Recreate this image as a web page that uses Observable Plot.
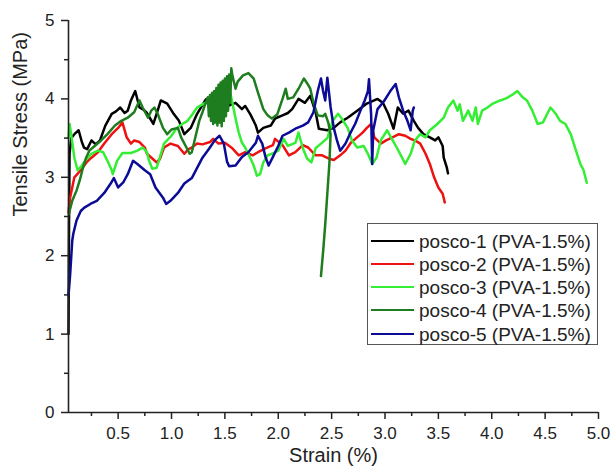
<!DOCTYPE html>
<html><head><meta charset="utf-8">
<script src="https://cdn.jsdelivr.net/npm/d3@7"></script>
<script src="https://cdn.jsdelivr.net/npm/@observablehq/plot@0.6"></script>
<style>
body{margin:0;background:#fff;}
#wrap{position:relative;width:614px;height:474px;font-family:Arial,"Liberation Sans",sans-serif;}
#legend{position:absolute;left:367px;top:223px;width:229px;height:120px;border:1px solid #555;background:#fff;}
.row{position:absolute;left:0;height:23px;width:229px;}
.swatch{position:absolute;left:3px;top:10px;width:43px;height:2px;}
.lab{position:absolute;left:51px;top:0;line-height:23px;font-size:19px;color:#222;white-space:nowrap;}
</style>
</head><body>
<div id="wrap"><div id="chart"></div><div id="legend"></div></div>
<script>
// ---- data (strain %, tensile stress MPa) ----
const names = ["posco-1 (PVA-1.5%)","posco-2 (PVA-1.5%)","posco-3 (PVA-1.5%)","posco-4 (PVA-1.5%)","posco-5 (PVA-1.5%)"];
const colors = ["#000000","#ee1111","#33ee33","#1e7d1e","#0b0b96"];
const xDomain = [0.035, 5];
const yDomain = [0, 5];
const xMajor = [0.5,1.0,1.5,2.0,2.5,3.0,3.5,4.0,4.5,5.0];
const xMinor = [0.25,0.75,1.25,1.75,2.25,2.75,3.25,3.75,4.25,4.75];
const yMajor = [0,1,2,3,4,5];
const yMinor = [0.5,1.5,2.5,3.5,4.5];

const posco1 = [[0.035,1.0],[0.04,2.4],[0.045,3.3],[0.06,3.50],[0.09,3.55],[0.13,3.60],[0.16,3.45],[0.18,3.38],[0.21,3.36],[0.25,3.47],[0.29,3.42],[0.33,3.47],[0.38,3.66],[0.44,3.81],[0.48,3.84],[0.52,3.89],[0.56,3.82],[0.59,3.85],[0.62,3.98],[0.66,4.10],[0.70,3.89],[0.74,3.86],[0.77,3.82],[0.80,3.75],[0.83,3.68],[0.87,3.85],[0.90,3.98],[0.96,3.94],[1.02,3.81],[1.07,3.72],[1.12,3.55],[1.18,3.63],[1.24,3.81],[1.32,3.99],[1.36,4.02],[1.41,3.91],[1.48,3.96],[1.53,3.91],[1.60,3.95],[1.66,3.87],[1.69,3.91],[1.74,3.80],[1.79,3.66],[1.81,3.57],[1.86,3.63],[1.93,3.66],[1.97,3.75],[2.04,3.79],[2.09,3.82],[2.13,3.87],[2.19,4.00],[2.25,3.95],[2.30,4.04],[2.35,3.83],[2.38,3.62],[2.46,3.60],[2.52,3.63],[2.58,3.70],[2.65,3.76],[2.74,3.85],[2.83,3.94],[2.93,4.00],[2.98,3.95],[3.03,3.81],[3.08,3.62],[3.12,3.89],[3.17,3.81],[3.22,3.85],[3.27,3.72],[3.31,3.63],[3.36,3.55],[3.42,3.51],[3.47,3.47],[3.50,3.51],[3.54,3.40],[3.55,3.25],[3.58,3.12],[3.59,3.05]];

const posco2 = [[0.035,2.55],[0.05,2.74],[0.09,3.00],[0.15,3.09],[0.21,3.20],[0.25,3.25],[0.31,3.32],[0.37,3.43],[0.44,3.55],[0.50,3.63],[0.54,3.70],[0.58,3.51],[0.62,3.43],[0.65,3.47],[0.70,3.45],[0.75,3.38],[0.77,3.30],[0.82,3.24],[0.86,3.19],[0.89,3.23],[0.93,3.38],[0.99,3.43],[1.06,3.40],[1.12,3.30],[1.16,3.36],[1.19,3.38],[1.24,3.43],[1.29,3.42],[1.36,3.45],[1.39,3.49],[1.44,3.43],[1.50,3.44],[1.57,3.37],[1.63,3.28],[1.69,3.32],[1.76,3.28],[1.81,3.32],[1.88,3.37],[1.95,3.41],[1.97,3.49],[2.04,3.41],[2.10,3.28],[2.16,3.32],[2.23,3.41],[2.28,3.38],[2.35,3.28],[2.41,3.28],[2.47,3.24],[2.52,3.22],[2.58,3.28],[2.63,3.34],[2.68,3.44],[2.73,3.50],[2.79,3.57],[2.83,3.63],[2.87,3.68],[2.90,3.51],[2.96,3.43],[3.01,3.47],[3.07,3.51],[3.13,3.55],[3.19,3.53],[3.24,3.49],[3.28,3.47],[3.33,3.43],[3.38,3.30],[3.42,3.17],[3.46,3.00],[3.50,2.87],[3.54,2.79],[3.56,2.68]];

const posco3 = [[0.035,3.50],[0.045,3.68],[0.06,3.55],[0.09,3.25],[0.12,3.09],[0.16,3.15],[0.19,3.21],[0.25,3.30],[0.31,3.34],[0.36,3.32],[0.40,3.21],[0.44,3.09],[0.45,3.04],[0.49,3.21],[0.54,3.31],[0.62,3.31],[0.68,3.34],[0.73,3.38],[0.77,3.32],[0.79,3.21],[0.82,3.11],[0.86,3.12],[0.89,3.25],[0.93,3.43],[1.00,3.53],[1.05,3.63],[1.10,3.68],[1.15,3.72],[1.20,3.81],[1.24,3.89],[1.29,3.93],[1.33,3.96],[1.41,3.98],[1.48,4.01],[1.52,4.04],[1.55,4.08],[1.57,3.95],[1.60,3.75],[1.63,3.57],[1.66,3.44],[1.69,3.38],[1.74,3.24],[1.77,3.15],[1.80,3.02],[1.83,3.04],[1.86,3.19],[1.90,3.28],[1.94,3.30],[2.00,3.34],[2.05,3.49],[2.09,3.40],[2.16,3.44],[2.19,3.57],[2.23,3.37],[2.27,3.24],[2.31,3.19],[2.35,3.37],[2.40,3.43],[2.46,3.50],[2.51,3.72],[2.56,3.81],[2.60,3.74],[2.65,3.63],[2.69,3.47],[2.74,3.38],[2.80,3.40],[2.84,3.30],[2.88,3.17],[2.92,3.25],[2.96,3.47],[3.02,3.60],[3.06,3.50],[3.11,3.38],[3.16,3.25],[3.19,3.17],[3.24,3.30],[3.28,3.47],[3.33,3.55],[3.38,3.51],[3.42,3.60],[3.49,3.68],[3.55,3.76],[3.59,3.89],[3.64,3.98],[3.68,3.85],[3.70,3.93],[3.73,3.72],[3.78,3.85],[3.82,3.72],[3.85,3.89],[3.87,3.68],[3.91,3.85],[3.96,3.89],[4.01,3.94],[4.08,3.98],[4.14,4.01],[4.20,4.06],[4.24,4.10],[4.29,4.02],[4.33,3.98],[4.38,3.85],[4.43,3.68],[4.48,3.70],[4.52,3.81],[4.55,3.89],[4.60,3.81],[4.64,3.72],[4.69,3.68],[4.74,3.55],[4.78,3.38],[4.83,3.17],[4.86,3.09],[4.89,2.93]];

const posco4 = [[0.04,2.53],[0.045,2.57],[0.07,2.70],[0.11,2.83],[0.14,2.96],[0.17,3.12],[0.20,3.25],[0.23,3.34],[0.28,3.40],[0.34,3.47],[0.40,3.55],[0.47,3.66],[0.53,3.72],[0.59,3.76],[0.65,3.83],[0.70,3.98],[0.73,3.89],[0.78,3.76],[0.81,3.85],[0.84,3.89],[0.87,3.81],[0.92,3.63],[0.96,3.55],[1.00,3.61],[1.06,3.63],[1.09,3.51],[1.14,3.38],[1.17,3.30],[1.19,3.32],[1.23,3.55],[1.26,3.72],[1.29,3.83],[1.31,3.91],[1.34,4.02],[1.35,3.78],[1.36,4.05],[1.37,3.72],[1.38,4.08],[1.39,3.68],[1.40,4.10],[1.41,3.70],[1.42,4.14],[1.43,3.66],[1.44,4.18],[1.45,3.70],[1.46,4.21],[1.47,3.65],[1.48,4.23],[1.49,3.72],[1.50,4.26],[1.51,3.78],[1.52,4.29],[1.53,3.85],[1.54,4.31],[1.55,3.95],[1.56,4.39],[1.57,4.30],[1.60,4.13],[1.62,4.22],[1.67,4.30],[1.72,4.33],[1.77,4.26],[1.81,4.08],[1.86,3.87],[1.90,3.79],[1.94,3.75],[1.99,3.80],[2.04,4.00],[2.07,4.13],[2.09,4.00],[2.14,4.02],[2.19,4.13],[2.24,4.26],[2.27,4.20],[2.30,4.13],[2.33,3.95],[2.37,3.79],[2.42,3.78],[2.44,3.81],[2.47,3.69],[2.49,3.55],[2.48,3.20],[2.46,2.80],[2.44,2.40],[2.42,2.05],[2.40,1.74]];

const posco5 = [[0.035,1.49],[0.05,1.75],[0.07,2.19],[0.08,2.28],[0.11,2.45],[0.15,2.57],[0.18,2.61],[0.24,2.66],[0.30,2.70],[0.37,2.80],[0.43,2.92],[0.46,2.99],[0.50,2.87],[0.55,2.94],[0.59,3.04],[0.64,3.21],[0.68,3.17],[0.75,3.09],[0.80,3.04],[0.85,2.87],[0.92,2.74],[0.95,2.66],[0.99,2.70],[1.06,2.80],[1.12,2.92],[1.19,2.99],[1.24,3.12],[1.29,3.25],[1.35,3.36],[1.41,3.48],[1.45,3.53],[1.49,3.43],[1.52,3.20],[1.54,3.14],[1.60,3.15],[1.66,3.26],[1.72,3.32],[1.79,3.44],[1.81,3.53],[1.85,3.43],[1.88,3.26],[1.91,3.15],[1.95,3.26],[2.00,3.40],[2.04,3.53],[2.10,3.57],[2.16,3.62],[2.23,3.66],[2.28,3.70],[2.33,3.83],[2.37,4.10],[2.40,4.26],[2.42,4.10],[2.44,3.98],[2.46,4.27],[2.49,3.90],[2.52,3.63],[2.55,3.47],[2.58,3.34],[2.63,3.43],[2.67,3.55],[2.72,3.68],[2.77,3.85],[2.81,3.98],[2.84,4.10],[2.85,4.25],[2.87,3.80],[2.88,3.17],[2.89,3.60],[2.93,3.87],[2.99,3.97],[3.05,4.10],[3.10,4.19],[3.13,4.02],[3.17,3.85],[3.21,3.72],[3.24,3.60],[3.26,3.85],[3.27,3.89]];

const seriesData = [posco1, posco2, posco3, posco4, posco5];
const rows = seriesData.flatMap((arr, i) => arr.map(([x, y], j) => ({name: names[i], x, y, j})));

const font = "Arial, 'Liberation Sans', sans-serif";
const chart = Plot.plot({
  width: 614, height: 474,
  marginLeft: 68, marginRight: 16, marginTop: 20, marginBottom: 62,
  style: {fontFamily: font, fontSize: "17px", color: "#222", background: "white"},
  x: {domain: xDomain},
  y: {domain: yDomain},
  color: {domain: names, range: colors},
  marks: [
    Plot.line(rows, {x: "x", y: "y", z: "name", stroke: "name", strokeWidth: 2.5, strokeLinejoin: "round"}),
    Plot.ruleY([yDomain[0]], {stroke: "#222", strokeWidth: 1.6}),
    Plot.ruleX([xDomain[0]], {stroke: "#222", strokeWidth: 1.6}),
    Plot.axisX(xMajor, {tickSize: 7, tickPadding: 7, fontSize: 17, tickFormat: d3.format(".1f"), label: null, strokeWidth: 1.5}),
    Plot.axisX(xMinor, {tickSize: 4, tickFormat: () => "", label: null, strokeWidth: 1.5}),
    Plot.axisY(yMajor, {tickSize: 7, tickPadding: 7, fontSize: 17, tickFormat: d3.format("d"), label: null, strokeWidth: 1.5}),
    Plot.axisY(yMinor, {tickSize: 4, tickFormat: () => "", label: null, strokeWidth: 1.5}),
    Plot.text(["Strain (%)"], {frameAnchor: "bottom", dy: 49, fontSize: 20, fill: "#222"}),
    Plot.text(["Tensile Stress (MPa)"], {frameAnchor: "left", dx: -48, rotate: -90, fontSize: 20, fill: "#222"})
  ]
});
document.getElementById("chart").appendChild(chart);

const legend = document.getElementById("legend");
names.forEach((n, i) => {
  const row = document.createElement("div");
  row.className = "row";
  row.style.top = (5.5 + i * 23.3) + "px";
  const sw = document.createElement("div");
  sw.className = "swatch";
  sw.style.background = colors[i];
  const lab = document.createElement("div");
  lab.className = "lab";
  lab.textContent = n;
  row.appendChild(sw); row.appendChild(lab);
  legend.appendChild(row);
});
</script>
</body></html>
